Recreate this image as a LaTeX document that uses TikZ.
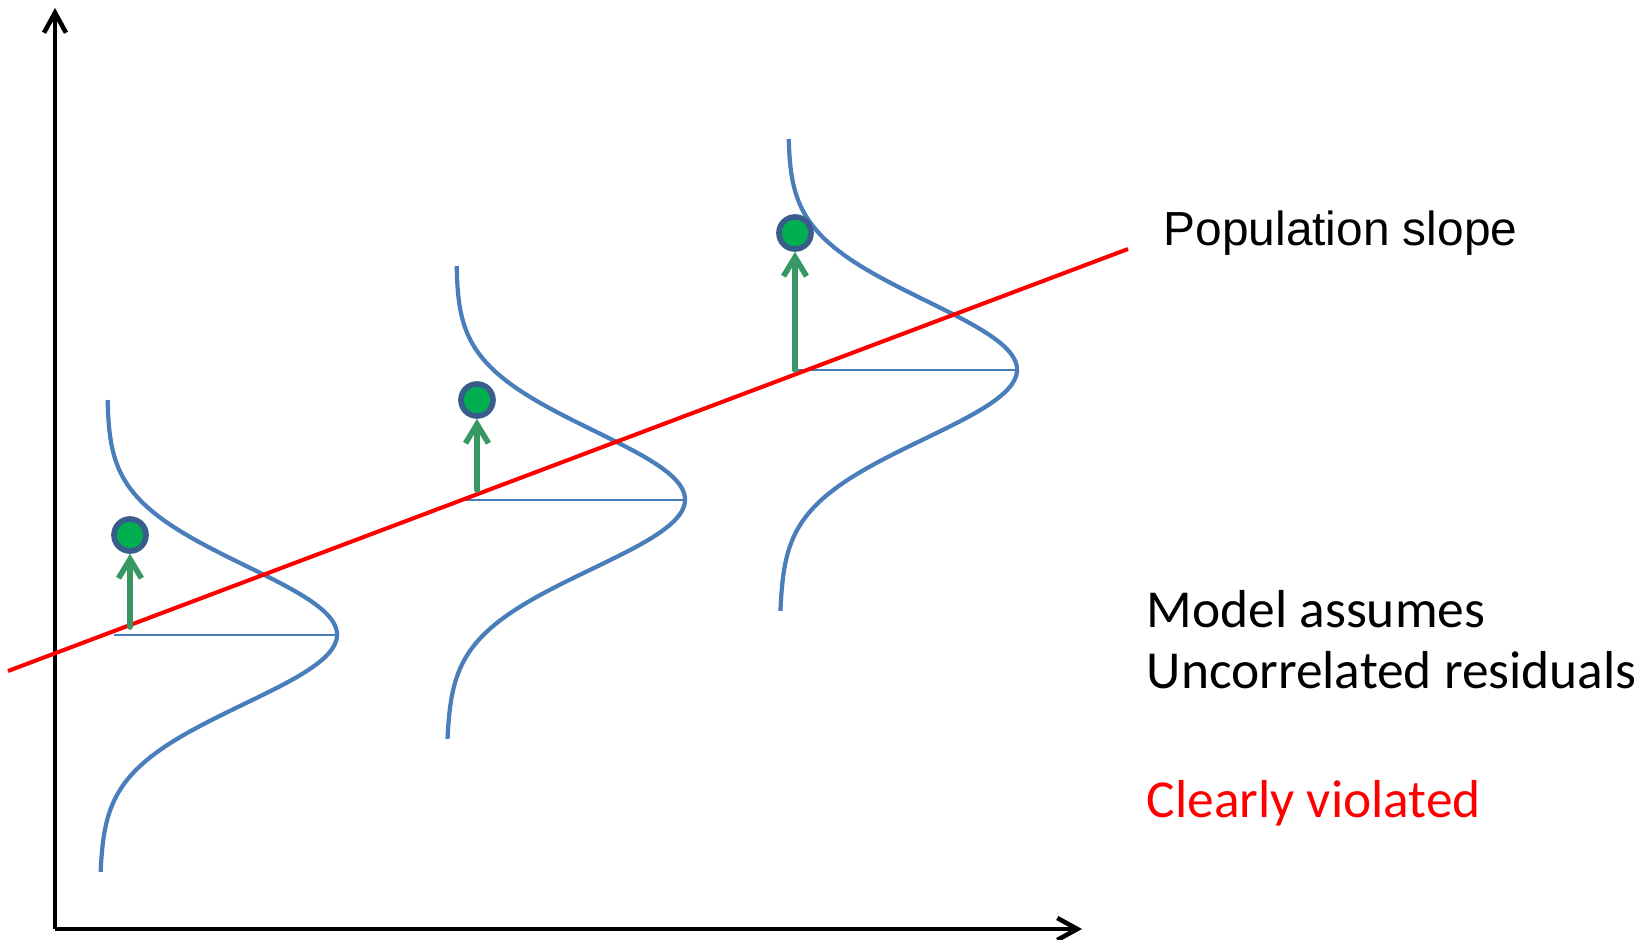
\documentclass[tikz,border=0pt]{standalone}
\usepackage{fontspec}
\newfontfamily\arialfont{Liberation Sans}
\newfontfamily\calibrifont{Carlito}
\usetikzlibrary{arrows.meta}
\definecolor{curveblue}{RGB}{74,126,187}
\definecolor{dotgreen}{RGB}{0,176,80}
\definecolor{dotrim}{RGB}{56,93,138}
\definecolor{residgreen}{RGB}{55,152,100}

\begin{document}
\begin{tikzpicture}[x=0.01cm, y=-0.01cm,
    axis/.style={line width=1.3pt, -{Straight Barb[length=2mm, width=2.2mm]}},
    slope/.style={line width=1.15pt, red},
    density/.style={line width=1.2pt, curveblue},
    mean/.style={line width=0.6pt, curveblue},
    resid/.style={line width=1.6pt, residgreen, line cap=round, -{Straight Barb[length=1.9mm, width=2.3mm]}},
    dot/.style={circle, draw=dotrim, fill=dotgreen, line width=1.6pt, minimum size=0.32cm, inner sep=0pt},
    label/.style={anchor=base west, inner sep=0pt}]
    \useasboundingbox (0,0) rectangle (1651,939);
    \coordinate (origin) at (55,929);
    \coordinate (ytop) at (55,8);
    \coordinate (xend) at (1082,929);
    \draw[axis] (origin) -- (ytop);
    \draw[axis] (origin) -- (xend);
    \foreach \xt/\xb/\mu/\pk/\ta/\tb/\bx/\n in {107/100/635/337/-2.35/2.37/114/1, 456/447/500/685/-2.34/2.39/466/2, 788/780/370/1017/-2.31/2.41/798/3}
      {
        \draw[density] plot[domain=\ta:\tb, samples=90, variable=\t, smooth]
          ({(\xt+\xb)/2 + (\xb-\xt)/2*\t/2.36 + (\pk-(\xt+\xb)/2)*exp(-\t*\t/(2*0.69*0.69))}, {\mu+100*\t});
        \coordinate (base\n) at (\bx,\mu);
        \coordinate (peak\n) at (\pk,\mu);
        \draw[mean] (base\n) -- (peak\n);
      }
    \coordinate (lineA) at (8,671);
    \coordinate (lineB) at (1128,249);
    \draw[slope] (lineA) -- (lineB);
    \coordinate (foot1) at (130,627);
    \coordinate (foot2) at (477,490);
    \coordinate (foot3) at (795,370);
    \node[dot] (obs1) at (130,535) {};
    \node[dot] (obs2) at (477,400) {};
    \node[dot] (obs3) at (795,233) {};
    \foreach \n in {1,2,3}
      \draw[resid] (foot\n) -- (obs\n);
    \node[label, font=\arialfont\fontsize{13.6pt}{17pt}\selectfont] (popslope) at (1163,245) {Population slope};
    \node[label, font=\calibrifont\fontsize{15.2pt}{18pt}\selectfont] (assume) at (1146,627) {Model assumes};
    \node[label, font=\calibrifont\fontsize{15.2pt}{18pt}\selectfont] (uncorr) at (1146,688) {Uncorrelated residuals};
    \node[label, font=\calibrifont\fontsize{15.2pt}{18pt}\selectfont, red] (violated) at (1146,817) {Clearly violated};
\end{tikzpicture}
\end{document}
